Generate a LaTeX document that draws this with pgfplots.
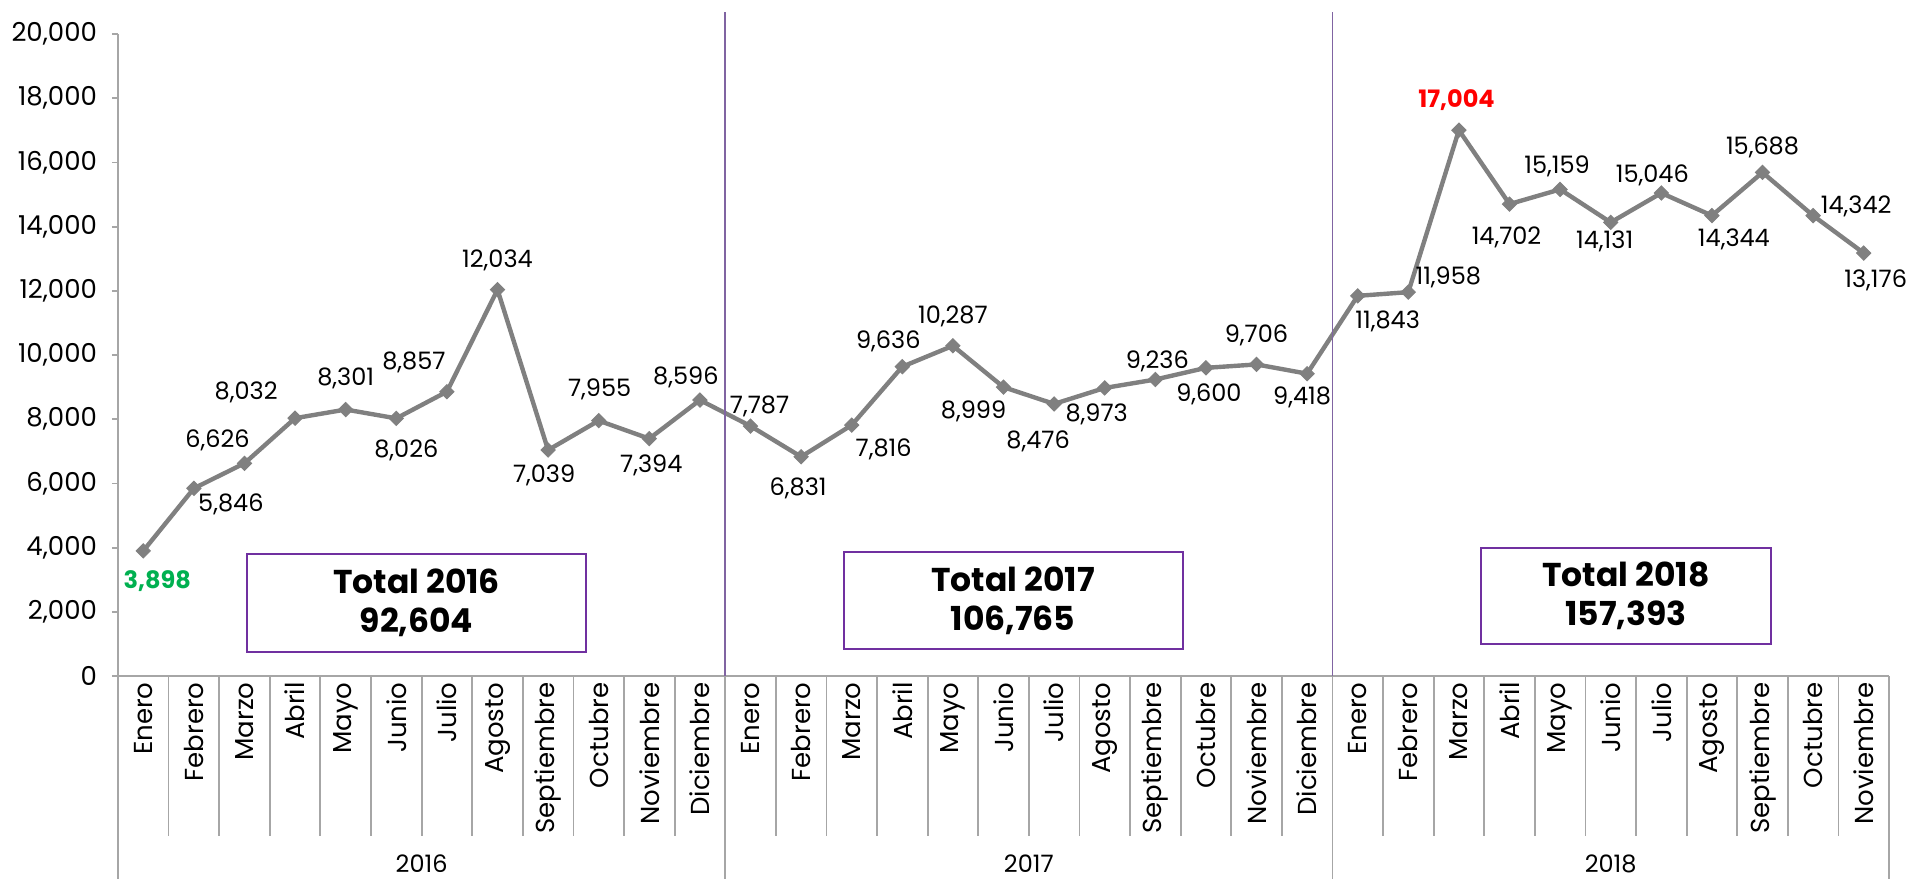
\documentclass[border=0pt]{standalone}
\usepackage{pgfplots}
\pgfplotsset{compat=1.18}
\usepackage{fontspec}
\setmainfont{Poppins}

\definecolor{linegray}{HTML}{808080}
\definecolor{axisgray}{HTML}{A6A6A6}
\definecolor{sepurple}{HTML}{8064A2}
\definecolor{boxpurple}{HTML}{7030A0}
\definecolor{labgreen}{HTML}{00B050}
\definecolor{labred}{HTML}{FF0000}

% x = month index, y = value, dx/dy = label offset (pt), c = label colour code
\pgfplotstableread{
x y dx dy c
0 3898 7 -15 1
1 5846 18.5 -8 0
2 6626 -13.5 11.5 0
3 8032 -24.5 13 0
4 8301 0 15.5 0
5 8026 5 -16 0
6 8857 -16.5 14.5 0
7 12034 0 14.5 0
8 7039 -2 -12.5 0
9 7955 0.5 15.5 0
10 7394 1 -13.5 0
11 8596 -7 11.5 0
12 7787 4.5 10 0
13 6831 -1.5 -16 0
14 7816 16 -12 0
15 9636 -7 12.5 0
16 10287 0 14.5 0
17 8999 -15 -12 0
18 8476 -8 -18.5 0
19 8973 -4 -13 0
20 9236 1 9 0
21 9600 1.5 -13.5 0
22 9706 0 14.5 0
23 9418 -2.5 -12 0
24 11843 15 -13 0
25 11958 20 7.5 0
26 17004 -1.2 15.2 2
27 14702 -1.5 -16.5 0
28 15159 -1.5 11.5 0
29 14131 -3 -9.5 0
30 15046 -4.5 9 0
31 14344 11 -12 0
32 15688 0 12.5 0
33 14342 21.5 4.5 0
34 13176 6 -13.5 0
}\monthly

\newcommand{\labstyle}[1]{\ifdim#1pt>1.5pt\color{labred}\bfseries\else\ifdim#1pt>0.5pt\color{labgreen}\bfseries\fi\fi}

\begin{document}
\begin{tikzpicture}
\begin{axis}[
    scale only axis,
    width=885.5pt, height=321pt,
    xmin=-0.5, xmax=34.5,
    ymin=0, ymax=20000,
    axis x line*=bottom, axis y line*=left,
    axis line style={draw=axisgray, line width=0.9pt},
    xtick={0,...,34},
    xticklabels={Enero,Febrero,Marzo,Abril,Mayo,Junio,Julio,Agosto,Septiembre,Octubre,Noviembre,Diciembre,
                 Enero,Febrero,Marzo,Abril,Mayo,Junio,Julio,Agosto,Septiembre,Octubre,Noviembre,Diciembre,
                 Enero,Febrero,Marzo,Abril,Mayo,Junio,Julio,Agosto,Septiembre,Octubre,Noviembre},
    xticklabel style={rotate=90, anchor=east, font=\fontsize{13}{14}\selectfont, inner sep=0pt},
    x tick style={draw=none},
    ytick={0,2000,...,20000},
    y tick style={draw=axisgray, line width=0.9pt},
    tick align=outside, major tick length=3pt,
    yticklabel style={font=\fontsize{13}{14}\selectfont, xshift=-4pt},
    /pgf/number format/.cd, fixed, precision=0, 1000 sep={,}, assume math mode=true,
    /pgfplots/.cd,
    scaled y ticks=false,
    clip=false,
]
\addplot[color=linegray, line width=2.2pt, mark=square*, mark size=2.5pt,
    mark options={fill=linegray, draw=linegray, rotate=45, line width=0.5pt},
    point meta=y,
    visualization depends on={\thisrow{dx} \as \dx},
    visualization depends on={\thisrow{dy} \as \dy},
    visualization depends on={\thisrow{c} \as \lc},
    nodes near coords={\labstyle{\lc}\pgfmathprintnumber{\pgfplotspointmeta}},
    nodes near coords style={anchor=center, inner sep=0pt, xshift=\dx pt, yshift=\dy pt,
        font=\fontsize{12}{13}\selectfont, text=black},
] table[x=x, y=y] {\monthly};

% category separators
\pgfplotsinvokeforeach{0,...,35}{
  \draw[axisgray, line width=0.9pt] (axis cs:#1-0.5,0) -- ++(0pt,-80pt);
}
\pgfplotsinvokeforeach{-0.5,11.5,23.5,34.5}{
  \draw[axisgray, line width=0.9pt] (axis cs:#1,0) -- ++(0pt,-101.5pt);
}
% year dividers
\draw[sepurple, line width=0.9pt] (axis cs:11.5,0) -- ([yshift=11pt]axis cs:11.5,20000);
\draw[sepurple, line width=0.9pt] (axis cs:23.5,0) -- ([yshift=11pt]axis cs:23.5,20000);

% year labels
\node[inner sep=0pt, font=\fontsize{12}{13}\selectfont] at ([yshift=-94pt]axis cs:5.5,0) {2016};
\node[inner sep=0pt, font=\fontsize{12}{13}\selectfont] at ([yshift=-94pt]axis cs:17.5,0) {2017};
\node[inner sep=0pt, font=\fontsize{12}{13}\selectfont] at ([yshift=-94pt]axis cs:29,0) {2018};

% totals
\draw[boxpurple, line width=1pt] (axis cs:2.05,759) rectangle (axis cs:8.75,3795);
\node[align=center, font=\fontsize{16.5}{19.5}\selectfont\bfseries] at (axis cs:5.4,2277) {Total 2016\\92,604};
\draw[boxpurple, line width=1pt] (axis cs:13.84,835) rectangle (axis cs:20.54,3871);
\node[align=center, font=\fontsize{16.5}{19.5}\selectfont\bfseries] at (axis cs:17.19,2353) {Total 2017\\106,765};
\draw[boxpurple, line width=1pt] (axis cs:26.44,987) rectangle (axis cs:32.17,3985);
\node[align=center, font=\fontsize{16.5}{19.5}\selectfont\bfseries] at (axis cs:29.3,2486) {Total 2018\\157,393};
\end{axis}
\pgfresetboundingbox
\path[use as bounding box] (-59pt,-101.5pt) rectangle (896.5pt,338pt);
\end{tikzpicture}
\end{document}
